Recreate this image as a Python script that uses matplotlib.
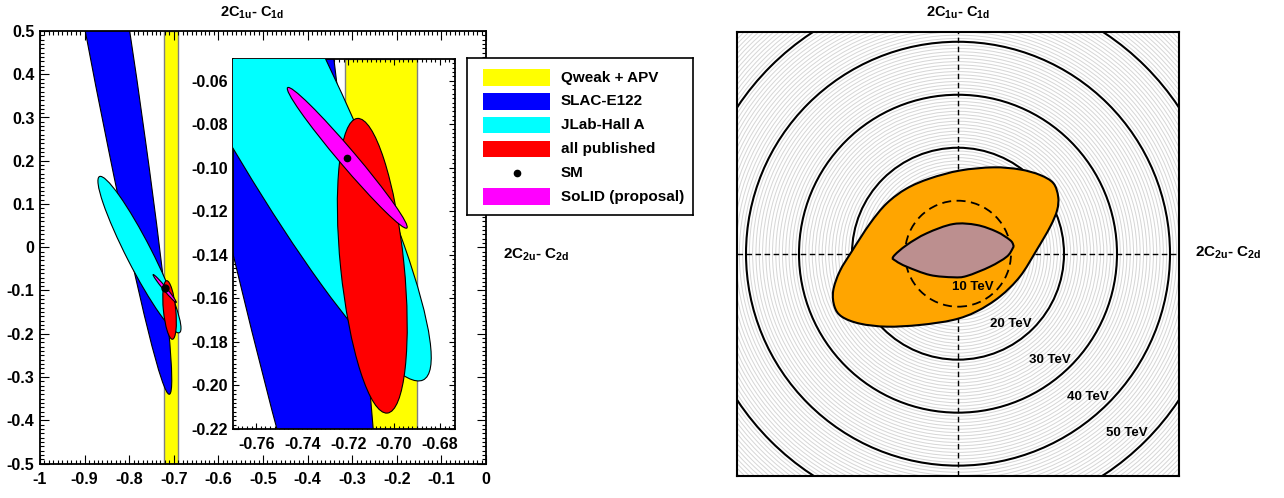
import numpy as np
import matplotlib
matplotlib.use('Agg')
import matplotlib.pyplot as plt
from matplotlib.patches import Ellipse, Rectangle, PathPatch, Circle
from matplotlib.path import Path
from matplotlib.ticker import MultipleLocator, FuncFormatter

plt.rcParams['font.family'] = ['Liberation Sans', 'DejaVu Sans']
plt.rcParams['font.weight'] = 'bold'
plt.rcParams['mathtext.fontset'] = 'custom'
plt.rcParams['mathtext.rm'] = 'Liberation Sans:bold'
plt.rcParams['mathtext.it'] = 'Liberation Sans:bold'
plt.rcParams['mathtext.bf'] = 'Liberation Sans:bold'

# ---- left panel: coupling-space constraints ----
legend_labels = ['Qweak + APV', 'SLAC-E122', 'JLab-Hall A', 'all published', 'SM', 'SoLID (proposal)']
legend_colors = ['#ffff00', '#0000ff', '#00ffff', '#ff0000', 'k', '#ff00ff']

qweak_band = [-0.7215, -0.6900]          # 2C1u - C1d range

# ellipses: SLAC-E122, JLab-Hall A, all published, SoLID
ell_colors = ['#0000ff', '#00ffff', '#ff0000', '#ff00ff']
ell_x = [-1.0356, -0.7770, -0.7095, -0.7204]
ell_y = [1.6334, -0.0170, -0.1450, -0.0954]
ell_a = [2.0, 0.2015, 0.068, 0.0414]     # semi-major
ell_b = [0.0603, 0.0285, 0.0138, 0.0037] # semi-minor
ell_ang = [99.37, -63.6, -84.5, -51.2]

sm_x, sm_y = -0.7206, -0.0953

# ---- right panel: mass reach ----
mass_scales = [10, 20, 30, 40, 50]       # TeV
orange_x = [-23.55, -22.3, -20.0, -16.6, -13.45, -9.7, -5.3, 0.38, 6.66, 11.7, 15.5, 18.0, 18.9,
            18.7, 17.4, 14.85, 11.7, 7.9, 3.5, -0.9, -7.2, -13.45, -18.5, -21.9, -23.3]
orange_y = [-7.0, -3.3, 0.5, 5.7, 9.5, 12.3, 14.2, 15.7, 16.3, 15.9, 14.85, 13.3, 10.75,
            8.2, 5.1, 0.7, -4.3, -8.1, -10.9, -12.5, -13.45, -13.77, -13.2, -11.9, -10.0]
brown_x = [-12.21, -9.68, -5.91, -0.89, 3.53, 7.3, 9.81, 10.43, 10.32, 9.19,
           6.04, 1.64, -0.89, -5.28, -9.68, -11.7]
brown_y = [-0.57, 1.64, 3.85, 5.6, 5.42, 4.15, 2.58, 1.64, 1.02, -0.57,
           -2.45, -4.21, -4.45, -4.02, -2.45, -1.38]


def smooth_closed(xs, ys):
    # closed Catmull-Rom curve through the points, as cubic Bezier path
    p = np.column_stack([xs, ys])
    n = len(p)
    verts = [p[0]]
    codes = [Path.MOVETO]
    for i in range(n):
        p0, p1, p2, p3 = p[i - 1], p[i], p[(i + 1) % n], p[(i + 2) % n]
        verts += [p1 + (p2 - p0) / 6.0, p2 - (p3 - p1) / 6.0, p2]
        codes += [Path.CURVE4] * 3
    verts.append(p[0])
    codes.append(Path.CLOSEPOLY)
    return Path(verts, codes)


def draw_constraints(ax, ms):
    ax.axvspan(qweak_band[0], qweak_band[1], facecolor='#ffff00', edgecolor='#808080', lw=1.0, zorder=1)
    for i in range(len(ell_x)):
        ax.add_patch(Ellipse((ell_x[i], ell_y[i]), 2 * ell_a[i], 2 * ell_b[i], angle=ell_ang[i],
                             facecolor=ell_colors[i], edgecolor='k', lw=0.8, zorder=2 + i))
    ax.plot([sm_x], [sm_y], 'o', color='k', ms=ms, zorder=10)


def root_ticks(ax, major, minor, maj_len, min_len, fmt):
    ax.xaxis.set_major_locator(MultipleLocator(major[0]))
    ax.xaxis.set_minor_locator(MultipleLocator(minor[0]))
    ax.yaxis.set_major_locator(MultipleLocator(major[1]))
    ax.yaxis.set_minor_locator(MultipleLocator(minor[1]))
    ax.tick_params(which='both', direction='in', top=True, right=True, width=0.8)
    ax.tick_params(which='major', length=maj_len, labelsize=11.5)
    ax.tick_params(axis='x', which='major', pad=6)
    ax.tick_params(axis='y', which='major', pad=4)
    ax.tick_params(which='minor', length=min_len)
    ax.xaxis.set_major_formatter(FuncFormatter(fmt[0]))
    ax.yaxis.set_major_formatter(FuncFormatter(fmt[1]))
    for s in ax.spines.values():
        s.set_linewidth(1.3)


def fmt1(v, p):
    s = ('%.1f' % v).rstrip('0').rstrip('.')
    return '0' if s in ('-0', '') else s


def fmt2(v, p):
    return '%.2f' % v


W, H = 1284, 498
fig = plt.figure(figsize=(W / 100, H / 100), dpi=100)

ax = fig.add_axes([40 / W, 34.5 / H, 446 / W, 432.5 / H])
ax.set_xlim(-1, 0)
ax.set_ylim(-0.5, 0.5)
draw_constraints(ax, 5)
root_ticks(ax, (0.1, 0.1), (0.01, 0.01), 6.5, 3.2, (fmt1, fmt1))

ins = fig.add_axes([233.3 / W, 69 / H, 221.7 / W, 370 / H])
ins.set_xlim(-0.77, -0.6735)
ins.set_ylim(-0.22, -0.05)
draw_constraints(ins, 4.5)
root_ticks(ins, (0.02, 0.02), (0.002, 0.002), 4.5, 2.3, (fmt2, fmt2))

# legend box
lg = fig.add_axes([467 / W, 283 / H, 226 / W, 157 / H])
lg.set_xlim(0, 226)
lg.set_ylim(157, 0)
lg.set_xticks([])
lg.set_yticks([])
for s in lg.spines.values():
    s.set_linewidth(1.2)
for i, (lab, col) in enumerate(zip(legend_labels, legend_colors)):
    yc = 19.5 + 23.8 * i
    if lab == 'SM':
        lg.plot([49.7], [yc], 'o', color='k', ms=4.5)
    else:
        lg.add_patch(Rectangle((16.3, yc - 8.3), 66.7, 16.6, facecolor=col, edgecolor='none'))
    lg.text(93.7, yc, lab, fontsize=11, va='center', ha='left')

fig.text(252.5 / W, 1 - 13 / H, r'$\mathrm{2C_{1u}}$- $\mathrm{C_{1d}}$', fontsize=10.5, ha='center', va='center')
fig.text(503 / W, 1 - 255 / H, r'$\mathrm{2C_{2u}}$- $\mathrm{C_{2d}}$', fontsize=11, ha='left', va='center')

# ---- right panel ----
rx = fig.add_axes([737 / W, 22.3 / H, 442 / W, 444 / H])
rx.set_xlim(-41.7, 41.7)
rx.set_ylim(-41.9, 41.9)
rx.set_xticks([])
rx.set_yticks([])
for s in rx.spines.values():
    s.set_linewidth(1.5)
    s.set_zorder(20)

for r in np.arange(0.625, 62, 0.625):
    rx.add_patch(Circle((0, 0), r, fill=False, edgecolor='#d6d6d6', lw=0.7, zorder=1))
for r in mass_scales[1:]:
    rx.add_patch(Circle((0, 0), r, fill=False, edgecolor='k', lw=1.5, zorder=2))
rx.axhline(0, color='k', lw=1.0, ls=(0, (4, 2.5)), zorder=3)
rx.axvline(0, color='k', lw=1.0, ls=(0, (4, 2.5)), zorder=3)

rx.add_patch(PathPatch(smooth_closed(orange_x, orange_y), facecolor='#ffa500', edgecolor='k', lw=1.5, zorder=4))
rx.add_patch(Circle((0, 0), mass_scales[0], fill=False, edgecolor='k', lw=1.3, ls=(0, (5, 3)), zorder=5))
rx.add_patch(PathPatch(smooth_closed(brown_x, brown_y), facecolor='#bc8f8f', edgecolor='k', lw=1.5, zorder=6))

ang = np.deg2rad(-43.5)
for r in mass_scales:
    rx.text((r - 0.8) * np.cos(ang), (r - 0.8) * np.sin(ang), '%d TeV' % r,
            fontsize=9.5, ha='right', va='center', zorder=8)

fig.text(958 / W, 1 - 13 / H, r'$\mathrm{2C_{1u}}$- $\mathrm{C_{1d}}$', fontsize=10.5, ha='center', va='center')
fig.text(1195 / W, 1 - 253 / H, r'$\mathrm{2C_{2u}}$- $\mathrm{C_{2d}}$', fontsize=11, ha='left', va='center')

fig.savefig('out.png', dpi=100)
